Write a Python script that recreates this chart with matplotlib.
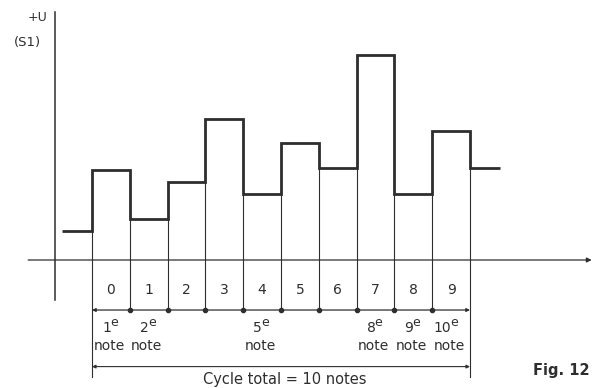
import numpy as np
import matplotlib
matplotlib.use("Agg")
import matplotlib.pyplot as plt

plt.rcParams['font.family'] = ['DejaVu Sans']

# voltage level of each note (arbitrary units), plus the level before and after the cycle
before_level = 1.4
note_levels = [4.4, 2.0, 3.8, 6.9, 3.2, 5.7, 4.5, 10.0, 3.2, 6.3]
after_level = 4.5
note_index = [str(i) for i in range(10)]
note_marks = [(0, "1"), (1, "2"), (4, "5"), (7, "8"), (8, "9"), (9, "10")]
cycle_text = "Cycle total = 10 notes"

ink = "#2e2e2e"
n = len(note_levels)

fig = plt.figure(figsize=(5.92, 3.88), dpi=100)
ax = fig.add_axes([0, 0, 1, 1])
# one x unit = one note, one y unit = one voltage step
ax.set_xlim(-2.434, 13.228)
ax.set_ylim(-6.244, 12.683)
ax.axis("off")

# axes
ax.plot([-0.98, -0.98], [-1.95, 12.1], color=ink, lw=1.1)
ax.annotate("", xy=(13.22, 0), xytext=(-1.69, 0),
            arrowprops=dict(arrowstyle="-|>", color=ink, lw=0.9,
                            mutation_scale=7, shrinkA=0, shrinkB=0))
ax.text(-1.45, 11.85, "+U", fontsize=9, color=ink, ha="center", va="center")
ax.text(-1.72, 10.6, "(S1)", fontsize=9.5, color=ink, ha="center", va="center")

# thin column outlines
levels = [before_level] + note_levels + [after_level]
for i in range(n + 1):
    top = max(levels[i], levels[i + 1])
    bottom = -5.7 if i in (0, n) else -2.44
    ax.plot([i, i], [bottom, top], color=ink, lw=0.8)

# thick staircase signal
edges = np.concatenate([[-0.79], np.arange(n + 1), [n + 0.8]])
ax.stairs(levels, edges, baseline=None, color=ink, lw=2.0)

# note index row
for i, lab in enumerate(note_index):
    ax.text(i + 0.5, -1.46, lab, fontsize=10, color=ink, ha="center", va="center")
ax.annotate("", xy=(0, -2.44), xytext=(n, -2.44),
            arrowprops=dict(arrowstyle="<|-|>", color=ink, lw=0.9,
                            mutation_scale=5, shrinkA=0, shrinkB=0))
ax.plot(np.arange(1, n), np.full(n - 1, -2.44), "o", color=ink, ms=3)

# note ordinal labels (digit + raised "e")
for col, num in note_marks:
    xc = col + 0.45
    ax.text(xc + 0.05, -3.3, num, fontsize=10, color=ink, ha="right", va="center")
    ax.text(xc + 0.03, -3.05, "e", fontsize=9, color=ink, ha="left", va="center")
    ax.text(xc, -4.2, "note", fontsize=10, color=ink, ha="center", va="center")

# total cycle
ax.annotate("", xy=(0, -5.2), xytext=(n, -5.2),
            arrowprops=dict(arrowstyle="<|-|>", color=ink, lw=0.8,
                            mutation_scale=5, shrinkA=0, shrinkB=0))
ax.text(5.1, -5.85, cycle_text, fontsize=10.5, color=ink, ha="center", va="center")

fig.text(0.9, 0.025, "Fig. 12", fontsize=10.5, fontweight="bold", color=ink,
         ha="left", va="bottom")

fig.savefig("out.png", dpi=100, facecolor="white")
